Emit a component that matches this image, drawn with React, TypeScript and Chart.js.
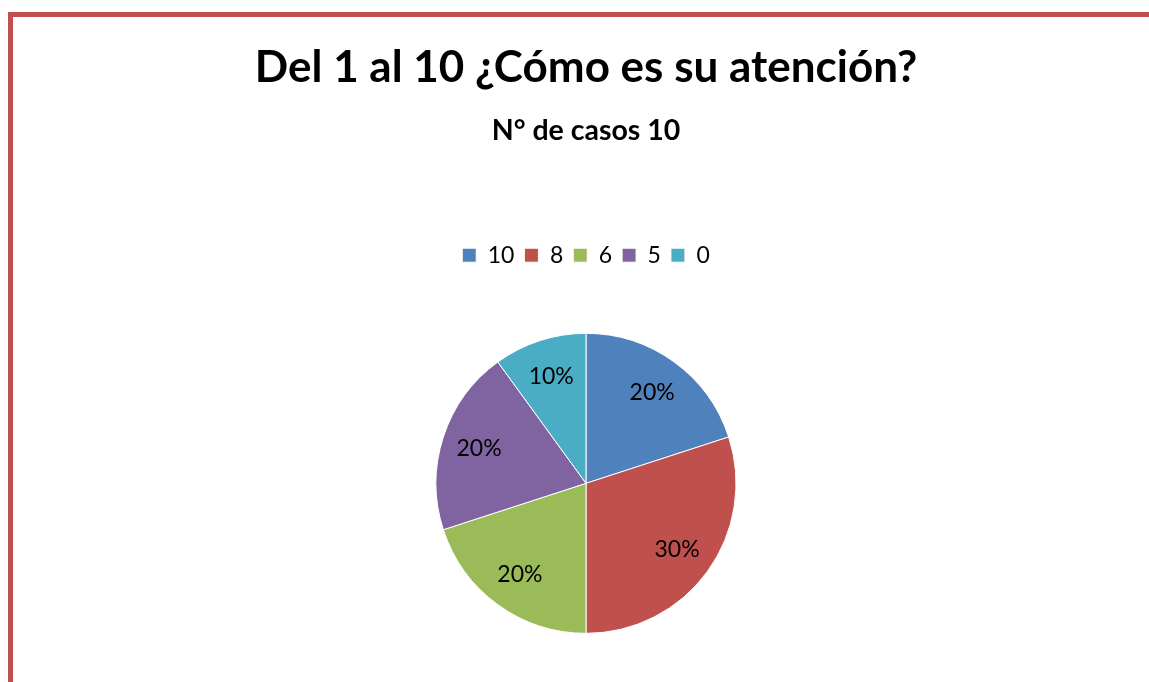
import React, { useEffect, useRef } from "react";
import { Chart, registerables } from "chart.js";

Chart.register(...registerables);

const categories = ["10", "8", "6", "5", "0"];
const values = [2, 3, 2, 2, 1];
const percentLabels = ["20%", "30%", "20%", "20%", "10%"];
const colors = ["#4F81BD", "#C0504D", "#9BBB59", "#8064A2", "#4BACC6"];
const titleText = "Del 1 al 10 ¿Cómo es su atención?";
const subtitleText = "N° de casos 10";

const FONT = "Lato, 'Open Sans', 'Liberation Sans', sans-serif";

const labelPlugin = {
  id: "pctLabels",
  afterDatasetsDraw(chart: any) {
    const ctx = chart.ctx;
    const meta = chart.getDatasetMeta(0);
    ctx.save();
    ctx.fillStyle = "#000";
    ctx.font = `23px ${FONT}`;
    ctx.textAlign = "center";
    ctx.textBaseline = "middle";
    meta.data.forEach((arc: any, i: number) => {
      const p = arc.getProps(["x", "y", "startAngle", "endAngle", "outerRadius"], true);
      const mid = (p.startAngle + p.endAngle) / 2;
      const r = p.outerRadius * 0.75;
      ctx.fillText(percentLabels[i], p.x + Math.cos(mid) * r, p.y + Math.sin(mid) * r);
    });
    ctx.restore();
  },
};

export default function App() {
  const ref = useRef<HTMLCanvasElement>(null);
  useEffect(() => {
    if (!ref.current) return;
    const chart = new Chart(ref.current, {
      type: "pie",
      data: {
        labels: categories,
        datasets: [
          {
            data: values,
            backgroundColor: colors,
            borderColor: "#ffffff",
            borderWidth: 1,
            radius: 150,
          } as any,
        ],
      },
      options: {
        animation: false,
        responsive: true,
        maintainAspectRatio: false,
        layout: { padding: { bottom: 3 } },
        plugins: {
          tooltip: { enabled: false },
          title: {
            display: true,
            text: titleText,
            color: "#000",
            font: { family: FONT, size: 44, weight: "bold" },
            padding: { top: 24, bottom: 10 },
          },
          subtitle: {
            display: true,
            text: subtitleText,
            color: "#000",
            font: { family: FONT, size: 28.5, weight: "bold" },
            padding: { top: 9.5, bottom: 86.2 },
          },
          legend: {
            position: "top",
            labels: {
              color: "#000",
              boxWidth: 14,
              boxHeight: 14,
              padding: 10,
              font: { family: FONT, size: 23 },
            },
          },
        },
      },
      plugins: [labelPlugin],
    });
    return () => chart.destroy();
  }, []);

  return (
    <div style={{ position: "fixed", inset: 0, overflow: "hidden", background: "#fff" }}>
      <div
        style={{
          position: "absolute",
          left: 8,
          top: 12,
          width: 1300,
          height: 900,
          borderLeft: "5px solid #C0504D",
          borderTop: "5px solid #C0504D",
        }}
      />
      <div style={{ position: "absolute", left: 13, top: 17, width: 1146, height: 676 }}>
        <canvas ref={ref} />
      </div>
    </div>
  );
}
